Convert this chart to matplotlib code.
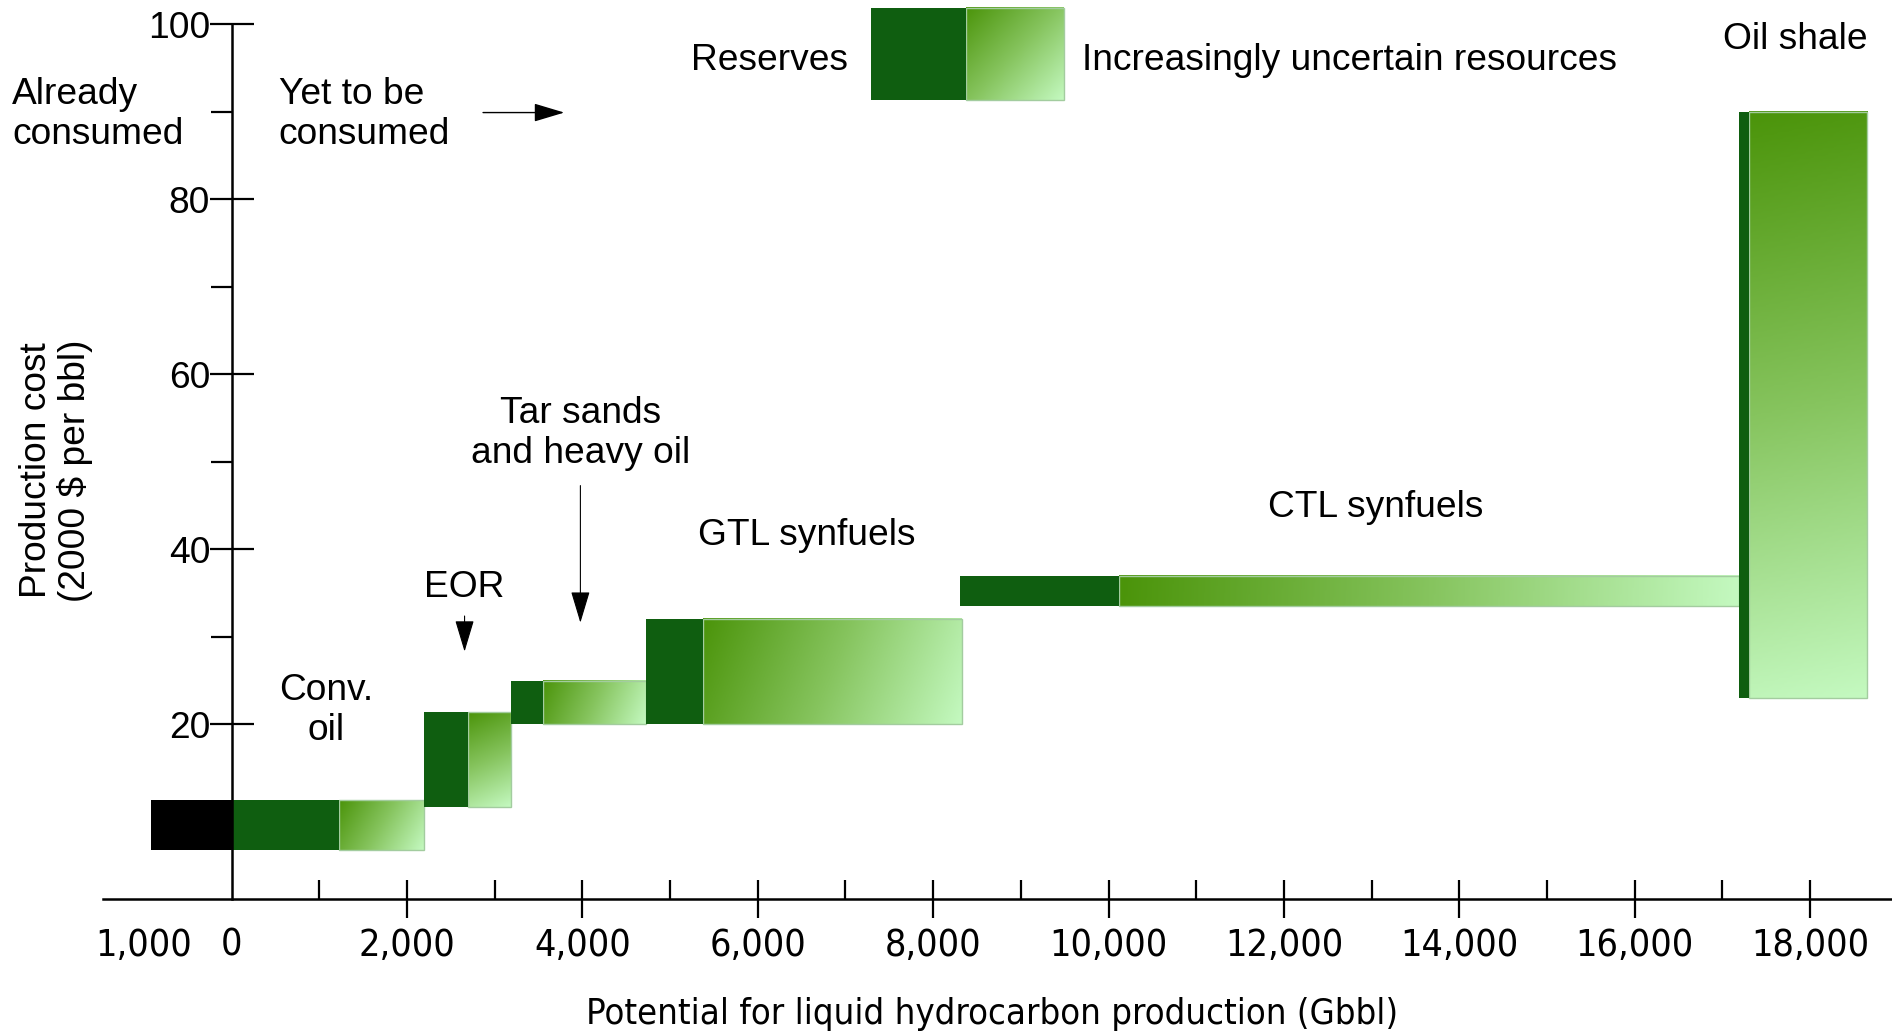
import numpy as np
import matplotlib
matplotlib.use("Agg")
import matplotlib.pyplot as plt
from matplotlib.colors import LinearSegmentedColormap
from matplotlib.patches import Rectangle
from matplotlib.ticker import FixedLocator, FixedFormatter

# ---------------- data ----------------
consumed_x = [-920, 0]            # already consumed (Gbbl)
consumed_cost = [5.7, 11.4]       # $/bbl range

resources = ["Conv. oil", "EOR", "Tar sands and heavy oil", "GTL synfuels", "CTL synfuels", "Oil shale"]
res_start = [0, 2190, 3190, 4720, 8310, 17190]
reserve_end = [1225, 2700, 3550, 5380, 10115, 17300]
res_end = [2190, 3190, 4720, 8325, 17190, 18650]
cost_low = [5.7, 10.6, 20.0, 20.0, 33.5, 23.0]
cost_high = [11.4, 21.4, 25.0, 32.0, 37.0, 90.0]

x_major = [-1000, 0, 2000, 4000, 6000, 8000, 10000, 12000, 14000, 16000, 18000]
x_labels = ["1,000", "0", "2,000", "4,000", "6,000", "8,000", "10,000", "12,000",
            "14,000", "16,000", "18,000"]
x_minor = [-1000, 1000, 3000, 5000, 7000, 9000, 11000, 13000, 15000, 17000]
y_major = [20, 40, 60, 80, 100]
y_minor = [10, 30, 50, 70, 90]

# ---------------- style ----------------
DARK = "#0f5e10"
GRAD_START = "#4b940a"
GRAD_END = "#c4f9c0"
EDGE = "#a3cc9f"
SANS = ["Liberation Sans", "DejaVu Sans"]
FS = 26.7
LS = 1.17

cmap = LinearSegmentedColormap.from_list("res", [GRAD_START, "#86c45e", GRAD_END])

fig = plt.figure(figsize=(18.92, 10.31), dpi=100)
ax = fig.add_axes([0, 0, 1, 1])
ax.set_xlim(-2642, 18935)
ax.set_ylim(-15.03, 102.76)
ax.patch.set_visible(False)


def px_size(x0, x1, y0, y1):
    p0 = ax.transData.transform((x0, y0))
    p1 = ax.transData.transform((x1, y1))
    return abs(p1[0] - p0[0]), abs(p1[1] - p0[1])


def grad_rect(x0, x1, y0, y1, z=2):
    W, H = px_size(x0, x1, y0, y1)
    n = 200
    u = np.linspace(0, 1, n)[None, :]
    v = np.linspace(0, 1, n)[:, None]  # 0 at top
    t = (u * W * W + v * H * H) / (W * W + H * H)
    ax.imshow(t, extent=(x0, x1, y0, y1), origin="upper", cmap=cmap,
              vmin=0, vmax=1, aspect="auto", interpolation="bilinear", zorder=z)
    ax.add_patch(Rectangle((x0, y0), x1 - x0, y1 - y0, fill=False,
                           edgecolor=EDGE, lw=1.0, zorder=z + 0.1))


# consumed block
ax.add_patch(Rectangle((consumed_x[0], consumed_cost[0]), consumed_x[1] - consumed_x[0],
                       consumed_cost[1] - consumed_cost[0], facecolor="black",
                       edgecolor="none", zorder=2))

for s, r, e, lo, hi in zip(res_start, reserve_end, res_end, cost_low, cost_high):
    ax.add_patch(Rectangle((s, lo), r - s, hi - lo, facecolor=DARK, edgecolor="none", zorder=3))
    grad_rect(r, e, lo, hi, z=2)

# legend glyph
ax.add_patch(Rectangle((7293, 91.3), 8380 - 7293, 101.9 - 91.3, facecolor=DARK,
                       edgecolor="none", zorder=3))
grad_rect(8380, 9495, 91.3, 101.9, z=2)
ax.text(7032, 95.8, "Reserves", ha="right", va="center", fontsize=FS, family=SANS)
ax.text(9701, 95.8, "Increasingly uncertain resources", ha="left", va="center",
        fontsize=FS, family=SANS)

ax.set_xlim(-2642, 18935)
ax.set_ylim(-15.03, 102.76)

# ---------------- axes ----------------
for sp in ["top", "right"]:
    ax.spines[sp].set_visible(False)
ax.spines["left"].set_position(("data", 0))
ax.spines["bottom"].set_position(("data", 0))
ax.spines["left"].set_bounds(0, 100)
ax.spines["bottom"].set_bounds(-1470, 18935)
for sp in ["left", "bottom"]:
    ax.spines[sp].set_linewidth(1.8)
    ax.spines[sp].set_zorder(5)

ax.xaxis.set_major_locator(FixedLocator(x_major))
ax.xaxis.set_major_formatter(FixedFormatter(x_labels))
ax.xaxis.set_minor_locator(FixedLocator(x_minor))
ax.tick_params(axis="x", which="major", direction="inout", length=28, width=1.6, pad=6.5,
               labelsize=27)
ax.tick_params(axis="x", which="minor", direction="in", length=14, width=1.6)
for t in ax.xaxis.get_major_ticks()[:2]:
    t.tick1line.set_visible(False)
for lab in ax.get_xticklabels():
    lab.set_family("DejaVu Sans")
    lab.set_fontstretch("condensed")

ax.yaxis.set_major_locator(FixedLocator(y_major))
ax.yaxis.set_minor_locator(FixedLocator(y_minor))
ax.tick_params(axis="y", which="major", direction="inout", length=31, width=1.6, pad=0,
               labelsize=FS)
ax.tick_params(axis="y", which="minor", direction="out", length=15, width=1.6)
for lab in ax.get_yticklabels():
    lab.set_family(SANS)

ax.text(8669, -13.1, "Potential for liquid hydrocarbon production (Gbbl)", ha="center",
        va="center", fontsize=26.1, family="DejaVu Sans", fontstretch="condensed")
ax.text(-2000, 49, "Production cost\n(2000 $ per bbl)", rotation=90, ha="center",
        va="center", fontsize=FS, family=SANS, linespacing=1.12)

# ---------------- annotations ----------------
ax.text(-2504, 89.7, "Already\nconsumed", ha="left", va="center", fontsize=FS,
        family=SANS, linespacing=LS)
ax.text(537, 89.7, "Yet to be\nconsumed", ha="left", va="center", fontsize=FS,
        family=SANS, linespacing=LS)
ax.annotate("", xy=(3825, 89.9), xytext=(2835, 89.9),
            arrowprops=dict(arrowstyle="-|>,head_length=1.0,head_width=0.3",
                            color="black", lw=1.0, mutation_scale=19))
ax.text(17834, 98.2, "Oil shale", ha="center", va="center", fontsize=FS, family=SANS)
ax.text(3977, 53.2, "Tar sands\nand heavy oil", ha="center", va="center", fontsize=FS,
        family=SANS, linespacing=LS)
ax.annotate("", xy=(3977, 31.3), xytext=(3977, 47.6),
            arrowprops=dict(arrowstyle="-|>,head_length=1.0,head_width=0.3",
                            color="black", lw=0.8, mutation_scale=20))
ax.text(6564, 41.6, "GTL synfuels", ha="center", va="center", fontsize=FS, family=SANS)
ax.text(2656, 35.6, "EOR", ha="center", va="center", fontsize=FS, family=SANS)
ax.annotate("", xy=(2656, 28.0), xytext=(2656, 32.7),
            arrowprops=dict(arrowstyle="-|>,head_length=1.0,head_width=0.3",
                            color="black", lw=0.8, mutation_scale=20))
ax.text(1073, 21.6, "Conv.\noil", ha="center", va="center", fontsize=FS, family=SANS,
        linespacing=LS)
ax.text(13045, 44.8, "CTL synfuels", ha="center", va="center", fontsize=FS, family=SANS)

fig.savefig("out.png", dpi=100, facecolor="white")
